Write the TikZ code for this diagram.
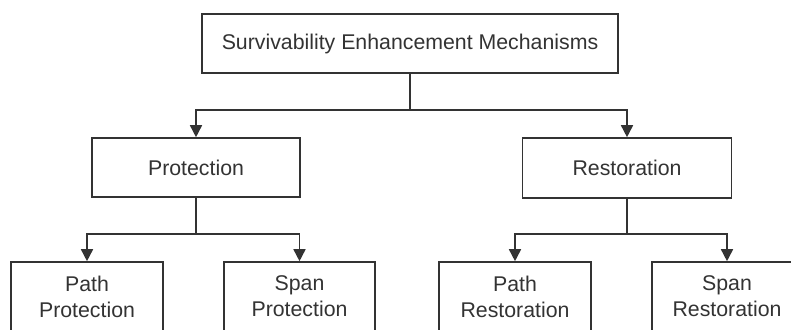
\documentclass[tikz,border=0pt]{standalone}
\usepackage{fontspec}
\setmainfont{Liberation Sans}
\usetikzlibrary{arrows.meta}
\definecolor{ink}{HTML}{333333}
\begin{document}
\begin{tikzpicture}[x=1pt,y=-1pt,
  box/.style={draw=ink,line width=1.6pt,fill=white,text=ink,align=center,
    inner sep=0pt,font=\fontsize{21.3}{26}\selectfont},
  link/.style={draw=ink,line width=1.6pt},
  arr/.style={link,-{Triangle[width=12pt,length=12pt]}}]
\useasboundingbox (0,0) rectangle (791,329);
\clip (0,0) rectangle (791,329);

% category boxes
\node[box,minimum width=416pt,minimum height=59pt] (top) at (410,43.5) {Survivability Enhancement Mechanisms};
\node[box,minimum width=208pt,minimum height=59pt] (prot) at (196,167.5) {Protection};
\node[box,minimum width=209pt,minimum height=60pt] (rest) at (627,168) {Restoration};

% leaf boxes (run past the lower edge)
\node[box,minimum width=152pt,minimum height=69pt] (pp) at (87,296.5) {Path\\Protection};
\node[box,minimum width=151pt,minimum height=69pt] (sp) at (299.5,296.5) {Span\\Protection};
\node[box,minimum width=152pt,minimum height=69pt] (pr) at (515,296.5) {Path\\Restoration};
\node[box,minimum width=150pt,minimum height=69pt] (sr) at (727,296.5) {Span\\Restoration};

% branch points
\coordinate (j0) at (410,110);
\coordinate (j1) at (196,234);
\coordinate (j2) at (627,234);

% connectors
\draw[link] (top.south) -- (j0);
\draw[arr] (j0) -| (prot.north);
\draw[arr] (j0) -| (rest.north);
\draw[link] (prot.south) -- (j1);
\draw[arr] (j1) -| (pp.north);
\draw[arr] (j1) -| (sp.north);
\draw[link] (rest.south) -- (j2);
\draw[arr] (j2) -| (pr.north);
\draw[arr] (j2) -| (sr.north);
\end{tikzpicture}
\end{document}
